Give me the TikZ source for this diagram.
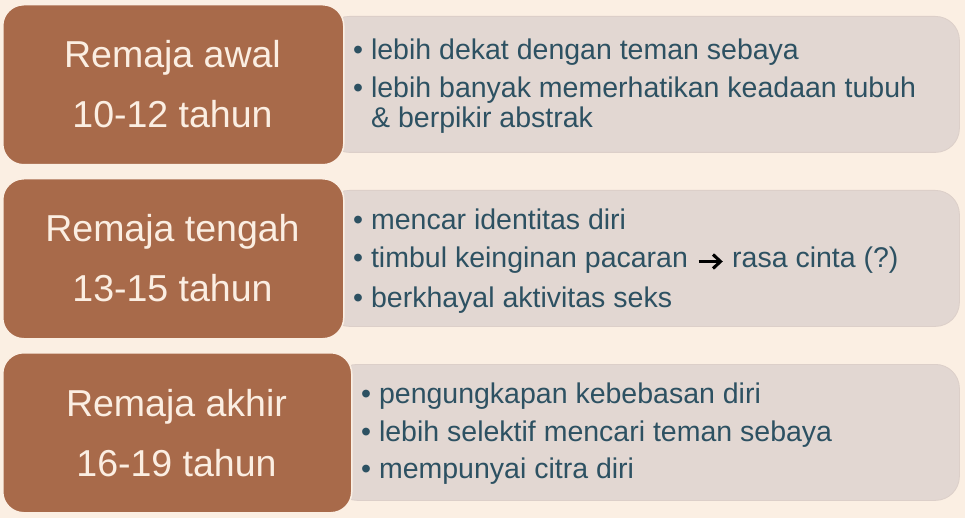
\documentclass[tikz,border=0pt]{standalone}
\usepackage{fontspec}
\setmainfont{Liberation Sans}
\definecolor{bg}{HTML}{FBEFE3}
\definecolor{brownc}{HTML}{A86A4A}
\definecolor{grayc}{HTML}{E2D7D2}
\definecolor{grayedge}{HTML}{DCCFC9}
\definecolor{slate}{HTML}{2D5162}
\definecolor{creamtxt}{HTML}{FBEEE2}
\tikzset{
  brownbox/.style={fill=brownc, draw=bg, line width=1.5pt, rounded corners=21pt, inner sep=0pt, anchor=north west, minimum height=160pt},
  graybox/.style={fill=grayc, draw=grayedge, line width=0.8pt, rounded corners=24pt, inner sep=0pt, anchor=north west, minimum height=136pt},
  agetxt/.style={anchor=base, inner sep=0pt, text=creamtxt, font=\fontsize{37.5pt}{37.5pt}\selectfont},
  itemtxt/.style={anchor=base west, inner sep=0pt, text=slate, font=\fontsize{28.5pt}{28.5pt}\selectfont},
  arrowglyph/.style={draw=black, line width=3.1pt, miter limit=10},
}
\begin{document}
\begin{tikzpicture}[x=1pt,y=-1pt]
\fill[bg] (0,0) rectangle (965,518);
\useasboundingbox (0,0) rectangle (965,518);
% gray boxes
\node[graybox, minimum width=634pt] (g1) at (325,16) {};
\node[graybox, minimum width=634pt] (g2) at (325,190) {};
\node[graybox, minimum width=626pt] (g3) at (333,364) {};
% brown boxes
\node[brownbox, minimum width=341pt] (b1) at (2,4) {};
\node[brownbox, minimum width=341pt] (b2) at (2,178) {};
\node[brownbox, minimum width=349pt] (b3) at (2,352) {};
% left texts
\node[agetxt] (t1a) at (172.5,68) {Remaja awal};
\node[agetxt] (t1b) at (172.5,128) {10-12 tahun};
\node[agetxt] (t2a) at (172.5,242) {Remaja tengah};
\node[agetxt] (t2b) at (172.5,301) {13-15 tahun};
\node[agetxt] (t3a) at (176.5,416) {Remaja akhir};
\node[agetxt] (t3b) at (176.5,476) {16-19 tahun};
% right texts
\node[itemtxt] (i11) at (353,60) {• lebih dekat dengan teman sebaya};
\node[itemtxt] (i12) at (353,98) {• lebih banyak memerhatikan keadaan tubuh};
\node[itemtxt] (i13) at (371,128) {\& berpikir abstrak};
\node[itemtxt] (i21) at (353,230) {• mencar identitas diri};
\node[itemtxt] (i22a) at (353,268) {• timbul keinginan pacaran};
\node[itemtxt] (i22b) at (732,268) {rasa cinta (?)};
\node[itemtxt] (i23) at (353,307) {• berkhayal aktivitas seks};
\node[itemtxt] (i31) at (361,403) {• pengungkapan kebebasan diri};
\node[itemtxt] (i32) at (361,441) {• lebih selektif mencari teman sebaya};
\node[itemtxt] (i33) at (361,478) {• mempunyai citra diri};
% arrow glyph between the two parts of the line
\coordinate (arrL) at (698.5,261.5);
\coordinate (arrR) at (720.5,261.5);
\draw[arrowglyph] (arrL) -- (arrR);
\draw[arrowglyph] ([shift={(-7.5,-7)}]arrR) -- (arrR) -- ([shift={(-7.5,7)}]arrR);
\end{tikzpicture}
\end{document}
